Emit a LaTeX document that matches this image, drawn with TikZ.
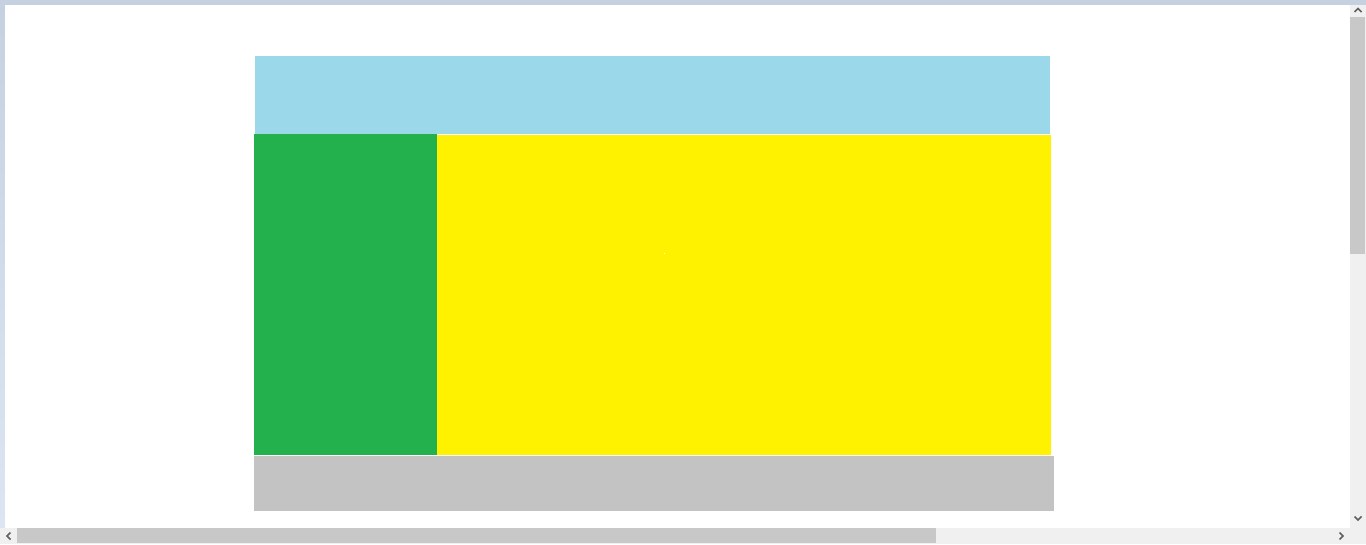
\documentclass[tikz,border=0pt]{standalone}
\usepackage{tikz}
\usetikzlibrary{positioning}
\definecolor{frameblue}{RGB}{197,208,225}
\definecolor{framelight}{RGB}{220,230,242}
\definecolor{headerblue}{RGB}{155,217,234}
\definecolor{sidegreen}{RGB}{34,177,76}
\definecolor{mainyellow}{RGB}{255,242,0}
\definecolor{footgrey}{RGB}{195,195,195}
\definecolor{trackgrey}{RGB}{240,240,240}
\definecolor{thumbgrey}{RGB}{200,200,200}
\definecolor{arrowgrey}{RGB}{96,96,96}

\begin{document}
\begin{tikzpicture}[x=1pt,y=-1pt,
  block/.style={anchor=north west,inner sep=0pt,outer sep=0pt},
  chevron/.style={draw=arrowgrey,line width=1.6pt}]

\useasboundingbox (0,0) rectangle (1366,544);

% window frame and page
\fill[frameblue] (0,0) rectangle (1366,5);
\shade[top color=frameblue,bottom color=framelight] (0,0) rectangle (5,528);
\fill[white] (5,5) rectangle (1350,528);

% layout blocks
\node[block,fill=headerblue,minimum width=795pt,minimum height=78pt] (header) at (255,56) {};
\node[block,fill=sidegreen,minimum width=183pt,minimum height=321pt] (sidebar) at (254,134) {};
\node[block,fill=mainyellow,minimum width=614pt,minimum height=320pt] (content) at (437,135) {};
\node[block,fill=footgrey,minimum width=800pt,minimum height=55pt] (footer) at (254,456) {};
\fill[white] (663.5,252.5) rectangle (665,254);

% scrollbars
\fill[trackgrey] (1350,5) rectangle (1366,544);
\fill[trackgrey] (0,528) rectangle (1366,544);
\node[block,fill=thumbgrey,minimum width=15pt,minimum height=237pt] (vthumb) at (1350,17) {};
\node[block,fill=thumbgrey,minimum width=919pt,minimum height=15pt] (hthumb) at (17,528) {};
\draw[chevron] (1354.5,12) -- (1358,8.5) -- (1361.5,12);
\draw[chevron] (1354.5,516.5) -- (1358,520) -- (1361.5,516.5);
\draw[chevron] (10.5,532.5) -- (7,536) -- (10.5,539.5);
\draw[chevron] (1339.5,532.5) -- (1343,536) -- (1339.5,539.5);

\end{tikzpicture}
\end{document}
